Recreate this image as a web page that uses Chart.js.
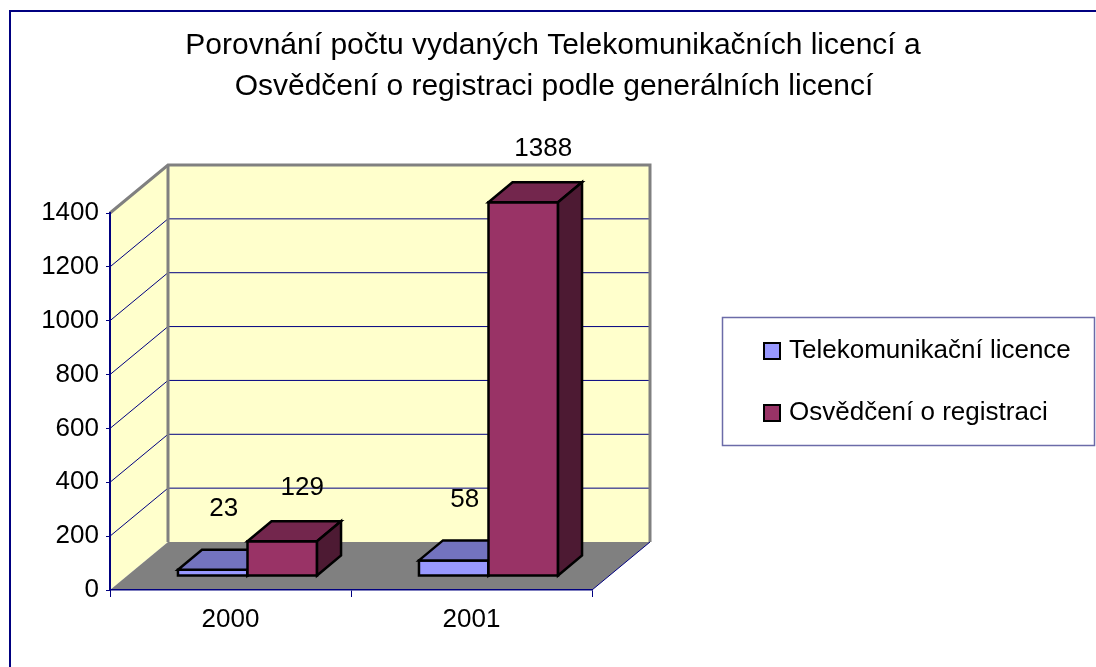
<!DOCTYPE html>
<html lang="cs">
<head>
<meta charset="utf-8">
<title>Porovnání počtu vydaných licencí</title>
<script src="https://cdn.jsdelivr.net/npm/chart.js@4.4.1/dist/chart.umd.min.js"></script>
<style>
    html, body { margin: 0; padding: 0; background: #fff; }
    canvas { display: block; }
</style>
</head>
<body>
<canvas id="chart" width="1096" height="667"></canvas>
<script>
// Chart data
const years = ['2000', '2001'];
const seriesNames = ['Telekomunikační licence', 'Osvědčení o registraci'];
const telekomLicence = [23, 58];
const osvedceniRegistrace = [129, 1388];
const yTicks = [0, 200, 400, 600, 800, 1000, 1200, 1400];
const titleLines = [
    'Porovnání počtu vydaných Telekomunikačních licencí a',
    'Osvědčení o registraci podle generálních licencí'
];

// Look
const FONT = '"Liberation Sans", Arial, sans-serif';
const NAVY = '#000080';
const WALL = '#FFFFCC';
const FLOOR = '#808080';
const frontColors = ['#9999FF', '#993366'];
const topColors = ['#7373BF', '#73264D'];
const sideColors = ['#4D4D80', '#4D1A33'];
const WALL_DEPTH = { x: 58, y: -48 };
const BAR_OFFSET = { x: 17, y: -14 };
const BAR_DEPTH = { x: 24, y: -20 };
const LABEL_SHIFT = [{ x: 11, y: -61 }, { x: 20, y: -53 }];

function poly(ctx, pts, fill, stroke, lw) {
    ctx.beginPath();
    pts.forEach((p, i) => i ? ctx.lineTo(p[0], p[1]) : ctx.moveTo(p[0], p[1]));
    ctx.closePath();
    if (fill) { ctx.fillStyle = fill; ctx.fill(); }
    if (stroke) { ctx.strokeStyle = stroke; ctx.lineWidth = lw; ctx.stroke(); }
}

function line(ctx, pts, color, lw) {
    ctx.beginPath();
    pts.forEach((p, i) => i ? ctx.lineTo(p[0], p[1]) : ctx.moveTo(p[0], p[1]));
    ctx.strokeStyle = color;
    ctx.lineWidth = lw;
    ctx.stroke();
}

// Walls, floor and gridlines behind everything
const wallsPlugin = {
    id: 'walls',
    beforeDraw(chart) {
        const ctx = chart.ctx;
        const a = chart.chartArea;
        const yScale = chart.scales.y;
        const D = WALL_DEPTH;
        const y0 = yScale.getPixelForValue(0);
        const yTop = yScale.getPixelForValue(yTicks[yTicks.length - 1]);

        ctx.save();
        poly(ctx, [[a.left, y0], [a.left, yTop], [a.left + D.x, yTop + D.y], [a.left + D.x, y0 + D.y]], WALL);
        poly(ctx, [[a.left + D.x, yTop + D.y], [a.right + D.x, yTop + D.y], [a.right + D.x, y0 + D.y], [a.left + D.x, y0 + D.y]], WALL);
        poly(ctx, [[a.left, y0], [a.right, y0], [a.right + D.x, y0 + D.y], [a.left + D.x, y0 + D.y]], FLOOR);

        yTicks.slice(1, -1).forEach(v => {
            const py = yScale.getPixelForValue(v);
            line(ctx, [[a.left, py], [a.left + D.x, py + D.y], [a.right + D.x, py + D.y]], NAVY, 1);
        });

        line(ctx, [[a.left, yTop], [a.left + D.x, yTop + D.y], [a.right + D.x, yTop + D.y], [a.right + D.x, y0 + D.y]], FLOOR, 3);
        line(ctx, [[a.left + D.x, yTop + D.y], [a.left + D.x, y0 + D.y]], FLOOR, 3);
        line(ctx, [[a.right, y0], [a.right + D.x, y0 + D.y]], NAVY, 1);
        ctx.restore();
    }
};

// 3D boxes built on the bar elements that Chart.js lays out
const boxesPlugin = {
    id: 'boxes',
    afterDatasetsDraw(chart) {
        const ctx = chart.ctx;
        const O = BAR_OFFSET, B = BAR_DEPTH;
        ctx.save();
        ctx.lineJoin = 'miter';
        years.forEach((yr, i) => {
            chart.data.datasets.forEach((ds, d) => {
                const bar = chart.getDatasetMeta(d).data[i];
                const left = bar.x - bar.width / 2 + O.x;
                const right = left + bar.width;
                const top = bar.y + O.y;
                const bottom = bar.base + O.y;
                poly(ctx, [[left, top], [right, top], [right, bottom], [left, bottom]], frontColors[d], '#000', 2.5);
                poly(ctx, [[left, top], [left + B.x, top + B.y], [right + B.x, top + B.y], [right, top]], topColors[d], '#000', 2.5);
                poly(ctx, [[right, top], [right + B.x, top + B.y], [right + B.x, bottom + B.y], [right, bottom]], sideColors[d], '#000', 2.5);
            });
        });

        ctx.fillStyle = '#000';
        ctx.font = '26px ' + FONT;
        ctx.textAlign = 'center';
        ctx.textBaseline = 'middle';
        chart.data.datasets.forEach((ds, d) => {
            chart.getDatasetMeta(d).data.forEach((bar, i) => {
                const cx = bar.x + O.x + LABEL_SHIFT[d].x;
                const cy = bar.y + O.y + LABEL_SHIFT[d].y;
                ctx.fillText(String(ds.data[i]), cx, cy);
            });
        });
        ctx.restore();
    }
};

// Title, legend box and outer frame
const decorPlugin = {
    id: 'decor',
    afterDraw(chart) {
        const ctx = chart.ctx;
        ctx.save();
        ctx.fillStyle = '#000';
        ctx.textBaseline = 'middle';
        ctx.textAlign = 'center';
        ctx.font = '30px ' + FONT;
        ctx.fillText(titleLines[0], 553, 46);
        ctx.fillText(titleLines[1], 554, 87);

        ctx.strokeStyle = '#6B6BA8';
        ctx.lineWidth = 1.5;
        ctx.strokeRect(722.5, 317.5, 372, 128);
        ctx.font = '26px ' + FONT;
        ctx.textAlign = 'left';
        seriesNames.forEach((name, d) => {
            const cy = 351 + d * 62;
            ctx.fillStyle = frontColors[d];
            ctx.fillRect(764, cy - 8, 16, 16);
            ctx.strokeStyle = '#000';
            ctx.lineWidth = 2;
            ctx.strokeRect(764, cy - 8, 16, 16);
            ctx.fillStyle = '#000';
            ctx.fillText(name, 789, cy);
        });

        ctx.strokeStyle = NAVY;
        ctx.lineWidth = 2;
        ctx.beginPath();
        ctx.moveTo(10, 700);
        ctx.lineTo(10, 11);
        ctx.lineTo(1200, 11);
        ctx.stroke();
        ctx.restore();
    }
};

new Chart(document.getElementById('chart'), {
    type: 'bar',
    data: {
        labels: years,
        datasets: [
            { label: seriesNames[0], data: telekomLicence },
            { label: seriesNames[1], data: osvedceniRegistrace }
        ].map(ds => Object.assign(ds, {
            backgroundColor: 'rgba(0,0,0,0)',
            borderWidth: 0,
            categoryPercentage: 0.577,
            barPercentage: 1.0
        }))
    },
    options: {
        responsive: false,
        animation: false,
        devicePixelRatio: 1,
        layout: { padding: { left: 0, top: 213, right: 504, bottom: 0 } },
        plugins: {
            legend: { display: false },
            title: { display: false },
            tooltip: { enabled: false }
        },
        scales: {
            x: {
                offset: true,
                grid: { drawOnChartArea: false, drawTicks: true, tickLength: 7, color: NAVY, offset: true },
                border: { display: true, color: NAVY, width: 1.5 },
                ticks: { color: '#000', font: { family: FONT, size: 26 }, padding: 7 },
                afterFit: s => { s.height = 77; }
            },
            y: {
                min: yTicks[0],
                max: yTicks[yTicks.length - 1],
                afterBuildTicks: s => { s.ticks = yTicks.map(v => ({ value: v })); },
                grid: { drawOnChartArea: false, drawTicks: true, tickLength: 4, color: NAVY },
                border: { display: true, color: NAVY, width: 2 },
                ticks: {
                    color: '#000',
                    font: { family: FONT, size: 26 },
                    padding: 7,
                    callback: v => String(v)
                },
                afterFit: s => { s.width = 110; }
            }
        }
    },
    plugins: [wallsPlugin, boxesPlugin, decorPlugin]
});
</script>
</body>
</html>
